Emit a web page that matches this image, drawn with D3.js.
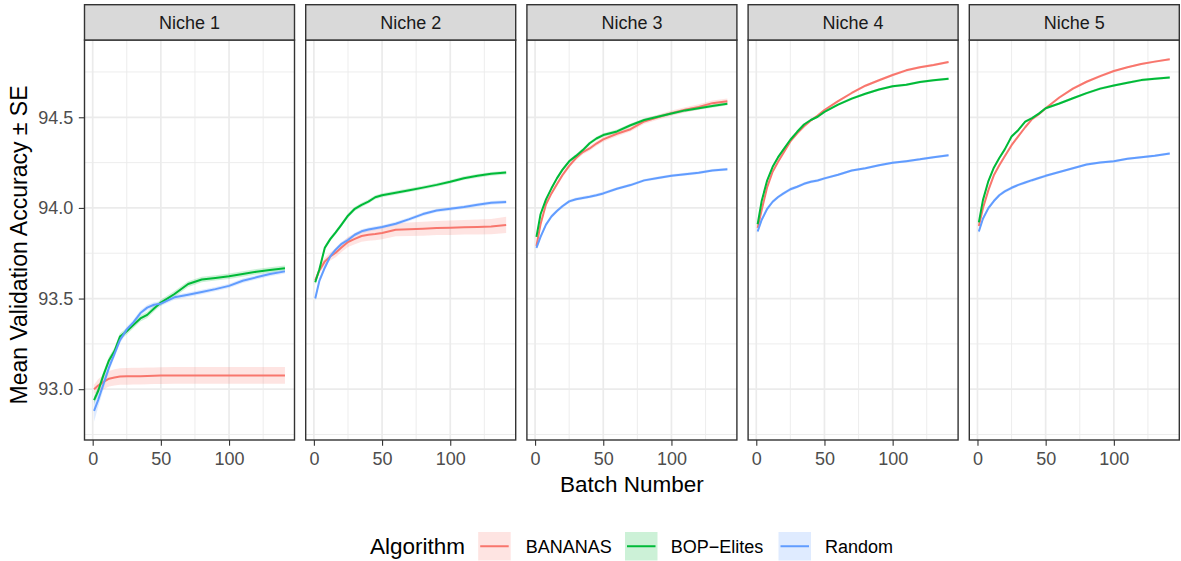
<!DOCTYPE html>
<html>
<head>
<meta charset="utf-8">
<script src="https://cdn.jsdelivr.net/npm/d3@7/dist/d3.min.js"></script>
<style>
  html, body { margin: 0; padding: 0; background: #ffffff; }
  svg { display: block; font-family: "Liberation Sans", Arial, Helvetica, sans-serif; }
</style>
</head>
<body>
<svg id="chart" width="1181" height="561"></svg>
<script>
// ---------------- DATA ----------------
const niches = ["Niche 1", "Niche 2", "Niche 3", "Niche 4", "Niche 5"];
const algorithms = ["BANANAS", "BOP-Elites", "Random"];
const algorithmLabels = ["BANANAS", "BOP\u2212Elites", "Random"];
const batches = [1, 4, 8, 12, 16, 20, 25, 30, 35, 40, 45, 50, 60, 70, 80, 90, 100, 110, 120, 130, 141];
const xTickValues = [0, 50, 100];
const yTickValues = [93.0, 93.5, 94.0, 94.5];

// Niche 1
const niche1_BANANAS = [93.000, 93.020, 93.040, 93.058, 93.065, 93.070, 93.071, 93.072, 93.072, 93.073, 93.074, 93.075, 93.076, 93.076, 93.076, 93.076, 93.076, 93.076, 93.076, 93.076, 93.076];
const niche1_BANANAS_se = [0.025, 0.035, 0.040, 0.043, 0.045, 0.046, 0.046, 0.046, 0.046, 0.046, 0.046, 0.046, 0.046, 0.046, 0.046, 0.046, 0.046, 0.046, 0.046, 0.046, 0.046];
const niche1_BOP = [92.940, 92.990, 93.080, 93.160, 93.210, 93.290, 93.320, 93.355, 93.390, 93.410, 93.445, 93.478, 93.525, 93.580, 93.605, 93.614, 93.623, 93.635, 93.648, 93.658, 93.667];
const niche1_BOP_se = [0.022, 0.022, 0.021, 0.020, 0.020, 0.019, 0.018, 0.018, 0.017, 0.017, 0.017, 0.016, 0.016, 0.016, 0.015, 0.015, 0.015, 0.015, 0.015, 0.015, 0.015];
const niche1_Random = [92.880, 92.940, 93.030, 93.120, 93.195, 93.270, 93.330, 93.370, 93.420, 93.450, 93.466, 93.472, 93.507, 93.521, 93.536, 93.552, 93.570, 93.598, 93.617, 93.635, 93.650];
const niche1_Random_se = [0.060, 0.040, 0.028, 0.022, 0.020, 0.018, 0.016, 0.015, 0.015, 0.014, 0.014, 0.013, 0.013, 0.012, 0.012, 0.012, 0.012, 0.012, 0.012, 0.012, 0.012];

// Niche 2
const niche2_BANANAS = [93.600, 93.655, 93.705, 93.732, 93.753, 93.780, 93.812, 93.829, 93.845, 93.852, 93.856, 93.862, 93.880, 93.882, 93.885, 93.889, 93.891, 93.893, 93.895, 93.897, 93.906];
const niche2_BANANAS_se = [0.015, 0.020, 0.020, 0.022, 0.025, 0.025, 0.028, 0.030, 0.032, 0.033, 0.034, 0.035, 0.036, 0.037, 0.038, 0.039, 0.040, 0.040, 0.041, 0.042, 0.045];
const niche2_BOP = [93.590, 93.660, 93.780, 93.828, 93.865, 93.905, 93.957, 93.995, 94.017, 94.035, 94.059, 94.070, 94.084, 94.098, 94.112, 94.127, 94.144, 94.164, 94.177, 94.188, 94.195];
const niche2_BOP_se = [0.014, 0.013, 0.013, 0.012, 0.012, 0.012, 0.012, 0.012, 0.012, 0.011, 0.011, 0.011, 0.011, 0.010, 0.010, 0.010, 0.010, 0.010, 0.010, 0.010, 0.010];
const niche2_Random = [93.500, 93.597, 93.670, 93.733, 93.770, 93.800, 93.823, 93.852, 93.871, 93.881, 93.888, 93.895, 93.913, 93.938, 93.966, 93.986, 93.995, 94.005, 94.017, 94.028, 94.033];
const niche2_Random_se = [0.016, 0.015, 0.014, 0.013, 0.012, 0.012, 0.012, 0.011, 0.011, 0.011, 0.011, 0.010, 0.010, 0.010, 0.010, 0.010, 0.010, 0.010, 0.010, 0.010, 0.010];

// Niche 3
const niche3_BANANAS = [93.790, 93.910, 94.020, 94.080, 94.130, 94.180, 94.232, 94.275, 94.308, 94.328, 94.355, 94.378, 94.409, 94.434, 94.477, 94.500, 94.523, 94.541, 94.557, 94.578, 94.588];
const niche3_BANANAS_se = [0.012, 0.012, 0.012, 0.012, 0.012, 0.012, 0.012, 0.012, 0.013, 0.013, 0.013, 0.013, 0.013, 0.013, 0.014, 0.014, 0.014, 0.014, 0.015, 0.015, 0.015];
const niche3_BOP = [93.840, 93.965, 94.047, 94.108, 94.163, 94.210, 94.257, 94.287, 94.319, 94.357, 94.383, 94.402, 94.422, 94.456, 94.485, 94.503, 94.521, 94.538, 94.550, 94.562, 94.575];
const niche3_BOP_se = [0.012, 0.011, 0.011, 0.010, 0.010, 0.010, 0.010, 0.010, 0.010, 0.010, 0.010, 0.010, 0.010, 0.010, 0.009, 0.009, 0.009, 0.009, 0.009, 0.009, 0.009];
const niche3_Random = [93.780, 93.840, 93.908, 93.953, 93.983, 94.009, 94.036, 94.048, 94.055, 94.062, 94.070, 94.080, 94.106, 94.126, 94.152, 94.165, 94.178, 94.186, 94.194, 94.207, 94.213];
const niche3_Random_se = [0.012, 0.011, 0.010, 0.010, 0.010, 0.009, 0.009, 0.009, 0.009, 0.009, 0.009, 0.009, 0.008, 0.008, 0.008, 0.008, 0.008, 0.008, 0.008, 0.008, 0.008];

// Niche 4
const niche4_BANANAS = [93.890, 93.990, 94.115, 94.200, 94.255, 94.305, 94.367, 94.411, 94.450, 94.482, 94.510, 94.540, 94.589, 94.634, 94.674, 94.704, 94.733, 94.759, 94.776, 94.788, 94.805];
const niche4_BANANAS_se = [0.010, 0.009, 0.009, 0.008, 0.008, 0.008, 0.008, 0.008, 0.008, 0.007, 0.007, 0.007, 0.007, 0.007, 0.007, 0.007, 0.007, 0.007, 0.007, 0.007, 0.007];
const niche4_BOP = [93.910, 94.040, 94.152, 94.227, 94.280, 94.323, 94.376, 94.420, 94.460, 94.485, 94.503, 94.530, 94.570, 94.603, 94.630, 94.653, 94.671, 94.680, 94.695, 94.704, 94.712];
const niche4_BOP_se = [0.010, 0.009, 0.009, 0.008, 0.008, 0.008, 0.008, 0.008, 0.007, 0.007, 0.007, 0.007, 0.007, 0.007, 0.007, 0.007, 0.007, 0.007, 0.007, 0.007, 0.007];
const niche4_Random = [93.870, 93.935, 93.995, 94.034, 94.060, 94.080, 94.103, 94.117, 94.133, 94.144, 94.151, 94.163, 94.183, 94.206, 94.219, 94.235, 94.249, 94.258, 94.268, 94.280, 94.291];
const niche4_Random_se = [0.012, 0.011, 0.010, 0.010, 0.009, 0.009, 0.009, 0.008, 0.008, 0.008, 0.008, 0.008, 0.007, 0.007, 0.007, 0.007, 0.007, 0.007, 0.007, 0.007, 0.007];

// Niche 5
const niche5_BANANAS = [93.900, 93.998, 94.098, 94.180, 94.235, 94.285, 94.346, 94.396, 94.445, 94.490, 94.517, 94.550, 94.609, 94.658, 94.696, 94.727, 94.755, 94.776, 94.794, 94.807, 94.820];
const niche5_BANANAS_se = [0.010, 0.009, 0.009, 0.008, 0.008, 0.008, 0.008, 0.007, 0.007, 0.007, 0.007, 0.007, 0.007, 0.007, 0.007, 0.007, 0.006, 0.006, 0.006, 0.006, 0.006];
const niche5_BOP = [93.920, 94.043, 94.148, 94.222, 94.275, 94.323, 94.394, 94.430, 94.476, 94.495, 94.520, 94.550, 94.576, 94.605, 94.633, 94.658, 94.675, 94.690, 94.705, 94.713, 94.720];
const niche5_BOP_se = [0.010, 0.009, 0.009, 0.008, 0.008, 0.008, 0.008, 0.008, 0.007, 0.007, 0.007, 0.007, 0.007, 0.007, 0.007, 0.007, 0.007, 0.007, 0.007, 0.007, 0.007];
const niche5_Random = [93.870, 93.940, 93.999, 94.038, 94.070, 94.091, 94.111, 94.127, 94.140, 94.153, 94.165, 94.177, 94.198, 94.219, 94.239, 94.250, 94.258, 94.271, 94.279, 94.288, 94.300];
const niche5_Random_se = [0.012, 0.011, 0.010, 0.010, 0.009, 0.009, 0.009, 0.008, 0.008, 0.008, 0.008, 0.008, 0.007, 0.007, 0.007, 0.007, 0.007, 0.007, 0.007, 0.007, 0.007];

const colors = ["#F8766D", "#00BA38", "#619CFF"];

// ---------------- BUILD TABLE ----------------
const seriesTable = [
  [[niche1_BANANAS, niche1_BANANAS_se], [niche1_BOP, niche1_BOP_se], [niche1_Random, niche1_Random_se]],
  [[niche2_BANANAS, niche2_BANANAS_se], [niche2_BOP, niche2_BOP_se], [niche2_Random, niche2_Random_se]],
  [[niche3_BANANAS, niche3_BANANAS_se], [niche3_BOP, niche3_BOP_se], [niche3_Random, niche3_Random_se]],
  [[niche4_BANANAS, niche4_BANANAS_se], [niche4_BOP, niche4_BOP_se], [niche4_Random, niche4_Random_se]],
  [[niche5_BANANAS, niche5_BANANAS_se], [niche5_BOP, niche5_BOP_se], [niche5_Random, niche5_Random_se]]
];
const panels = niches.map((name, i) => ({
  name,
  series: algorithms.map((alg, j) => ({
    alg, color: colors[j],
    points: batches.map((b, k) => ({ x: b, m: seriesTable[i][j][0][k], se: seriesTable[i][j][1][k] }))
  }))
}));

// ---------------- LAYOUT ----------------
const panelLeft = 84.5, panelW = 210, panelGap = 11.2;
const stripTop = 4.7, stripBottom = 40, panelBottom = 440;
const font = '"Liberation Sans", Arial, Helvetica, sans-serif';

let lo = Infinity, hi = -Infinity;
panels.forEach(p => p.series.forEach(s => s.points.forEach(d => {
  lo = Math.min(lo, d.m - d.se); hi = Math.max(hi, d.m + d.se);
})));
const yPad = (hi - lo) * 0.05;
const y = d3.scaleLinear().domain([lo - yPad, hi + yPad]).range([panelBottom, stripBottom]);
const [bx0, bx1] = d3.extent(batches);
const xPad = (bx1 - bx0) * 0.05;
const x = d3.scaleLinear().domain([bx0 - xPad, bx1 + xPad]).range([0, panelW]);

const yMajor = yTickValues;
const yMinor = [];
{
  const step = 0.5;
  for (let v = yMajor[0] - step / 2; v <= y.domain()[1]; v += step) {
    if (v >= y.domain()[0]) yMinor.push(+v.toFixed(3));
  }
}
const xMinor = [25, 75, 125];

const svg = d3.select("#chart");
svg.append("rect").attr("width", 1181).attr("height", 561).attr("fill", "#ffffff");

panels.forEach((p, i) => {
  const g = svg.append("g").attr("transform", `translate(${panelLeft + i * (panelW + panelGap)},0)`);
  g.append("rect").attr("x", 0).attr("y", stripBottom).attr("width", panelW)
    .attr("height", panelBottom - stripBottom).attr("fill", "#ffffff");

  // minor grid
  g.selectAll(".ymin").data(yMinor).enter().append("line")
    .attr("x1", 0).attr("x2", panelW).attr("y1", d => y(d)).attr("y2", d => y(d))
    .attr("stroke", "#EBEBEB").attr("stroke-width", 0.9);
  g.selectAll(".xmin").data(xMinor).enter().append("line")
    .attr("y1", stripBottom).attr("y2", panelBottom).attr("x1", d => x(d)).attr("x2", d => x(d))
    .attr("stroke", "#EBEBEB").attr("stroke-width", 0.9);
  // major grid
  g.selectAll(".ymaj").data(yMajor).enter().append("line")
    .attr("x1", 0).attr("x2", panelW).attr("y1", d => y(d)).attr("y2", d => y(d))
    .attr("stroke", "#EBEBEB").attr("stroke-width", 1.7);
  g.selectAll(".xmaj").data(xTickValues).enter().append("line")
    .attr("y1", stripBottom).attr("y2", panelBottom).attr("x1", d => x(d)).attr("x2", d => x(d))
    .attr("stroke", "#EBEBEB").attr("stroke-width", 1.7);

  // ribbons
  const area = d3.area().x(d => x(d.x)).y0(d => y(d.m - d.se)).y1(d => y(d.m + d.se));
  p.series.forEach(s => {
    g.append("path").datum(s.points).attr("d", area)
      .attr("fill", s.color).attr("fill-opacity", 0.2).attr("stroke", "none");
  });
  // lines
  const line = d3.line().x(d => x(d.x)).y(d => y(d.m));
  p.series.forEach(s => {
    g.append("path").datum(s.points).attr("d", line)
      .attr("fill", "none").attr("stroke", s.color).attr("stroke-width", 2)
      .attr("stroke-linejoin", "round");
  });

  // panel border
  g.append("rect").attr("x", 0).attr("y", stripBottom).attr("width", panelW)
    .attr("height", panelBottom - stripBottom).attr("fill", "none")
    .attr("stroke", "#333333").attr("stroke-width", 1.4);

  // strip
  g.append("rect").attr("x", 0).attr("y", stripTop).attr("width", panelW)
    .attr("height", stripBottom - stripTop).attr("fill", "#D9D9D9")
    .attr("stroke", "#333333").attr("stroke-width", 1.4);
  g.append("text").attr("x", panelW / 2).attr("y", 29)
    .attr("text-anchor", "middle").attr("font-family", font).attr("font-size", 18)
    .attr("fill", "#1A1A1A").text(p.name);

  // x axis
  const xAxis = d3.axisBottom(x).tickValues(xTickValues).tickFormat(d3.format("d"))
    .tickSize(5.7).tickPadding(6.3);
  const xg = g.append("g").attr("transform", `translate(0,${panelBottom})`).call(xAxis);
  xg.select(".domain").remove();
  xg.selectAll(".tick line").attr("stroke", "#333333").attr("stroke-width", 1.1);
  xg.selectAll(".tick text").attr("font-family", font).attr("font-size", 18).attr("fill", "#4D4D4D");

  if (i === 0) {
    const yAxis = d3.axisLeft(y).tickValues(yTickValues).tickFormat(d3.format(".1f"))
      .tickSize(5.7).tickPadding(5.6);
    const yg = g.append("g").call(yAxis);
    yg.select(".domain").remove();
    yg.selectAll(".tick line").attr("stroke", "#333333").attr("stroke-width", 1.1);
    yg.selectAll(".tick text").attr("font-family", font).attr("font-size", 18).attr("fill", "#4D4D4D");
  }
});

// axis titles
const plotCenterX = panelLeft + (5 * panelW + 4 * panelGap) / 2;
svg.append("text").attr("x", plotCenterX).attr("y", 491.5)
  .attr("text-anchor", "middle").attr("font-family", font).attr("font-size", 22.5)
  .attr("fill", "#000000").text("Batch Number");
svg.append("text").attr("transform", `translate(26.8,245) rotate(-90)`)
  .attr("text-anchor", "middle").attr("font-family", font).attr("font-size", 23)
  .attr("fill", "#000000").text("Mean Validation Accuracy \u00B1 SE");

// legend
const legendY = 532, keyW = 32.5, keyH = 28.5;
svg.append("text").attr("x", 370).attr("y", legendY + keyH / 2 + 8)
  .attr("font-family", font).attr("font-size", 22.5).attr("fill", "#000000").text("Algorithm");
const keyX = [478.2, 625, 778.5];
const labelX = [525.7, 670.7, 825];
algorithms.forEach((alg, j) => {
  svg.append("rect").attr("x", keyX[j]).attr("y", legendY).attr("width", keyW).attr("height", keyH)
    .attr("fill", colors[j]).attr("fill-opacity", 0.2);
  svg.append("line").attr("x1", keyX[j] + 2).attr("x2", keyX[j] + keyW - 2)
    .attr("y1", legendY + keyH / 2).attr("y2", legendY + keyH / 2)
    .attr("stroke", colors[j]).attr("stroke-width", 2);
  svg.append("text").attr("x", labelX[j]).attr("y", legendY + keyH / 2 + 6.5)
    .attr("font-family", font).attr("font-size", 18).attr("fill", "#000000").text(algorithmLabels[j]);
});
</script>
</body>
</html>
